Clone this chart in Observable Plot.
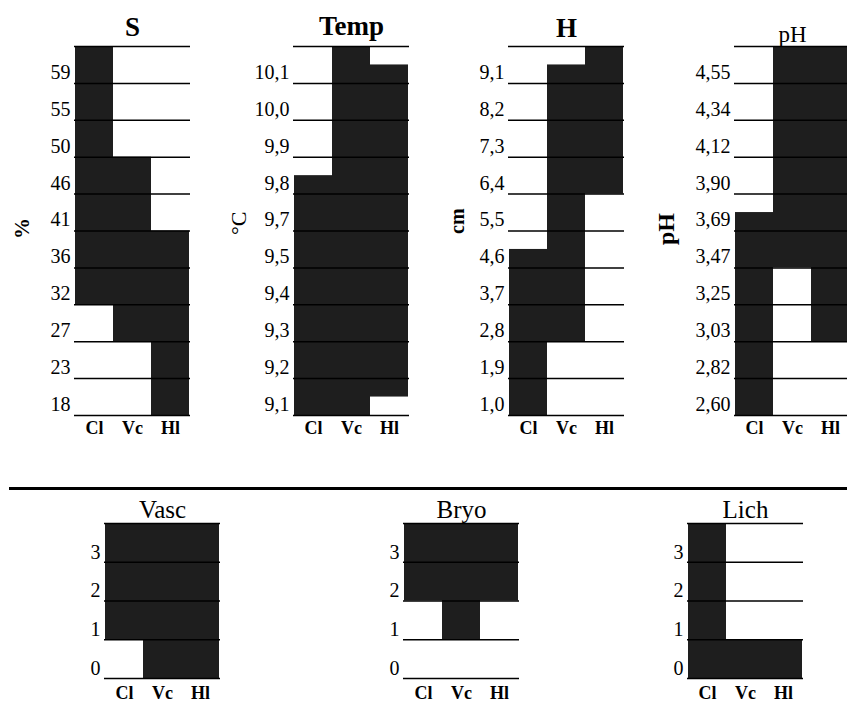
<!DOCTYPE html>
<html>
<head>
<meta charset="utf-8">
<script src="https://cdn.jsdelivr.net/npm/d3@7"></script>
<script src="https://cdn.jsdelivr.net/npm/@observablehq/plot@0.6"></script>
<style>
  html, body { margin: 0; padding: 0; background: #fff; }
  #chart { position: relative; width: 847px; height: 703px; overflow: hidden; background: #fff; }
  #chart svg { position: absolute; }
  .divider { position: absolute; left: 9px; top: 487px; width: 838px; height: 3px; background: #000; }
</style>
</head>
<body>
<div id="chart"><div class="divider"></div></div>
<script>
// Site classes along the x axis of every panel
const columns = ["Cl", "Vc", "Hl"];

// Environmental gradients: class labels (bottom to top) and occupied range per site [lo, hi] in class steps
const salinityLabels = ["18", "23", "27", "32", "36", "41", "46", "50", "55", "59"];
const salinityLo = [3, 2, 0];
const salinityHi = [10, 7, 5];

const tempLabels = ["9,1", "9,2", "9,3", "9,4", "9,5", "9,7", "9,8", "9,9", "10,0", "10,1"];
const tempLo = [0, 0, 0.5];
const tempHi = [6.5, 10, 9.5];

const heightLabels = ["1,0", "1,9", "2,8", "3,7", "4,6", "5,5", "6,4", "7,3", "8,2", "9,1"];
const heightLo = [0, 2, 6];
const heightHi = [4.5, 9.5, 10];

const phLabels = ["2,60", "2,82", "3,03", "3,25", "3,47", "3,69", "3,90", "4,12", "4,34", "4,55"];
const phLo = [0, 4, 2];
const phHi = [5.5, 10, 10];

// Cover classes of vegetation groups
const coverLabels = ["0", "1", "2", "3"];
const vascLo = [1, 0, 0];
const vascHi = [4, 4, 4];
const bryoLo = [2, 1, 2];
const bryoHi = [4, 4, 4];
const lichLo = [0, 0, 0];
const lichHi = [4, 1, 1];

const FONT = '"Liberation Serif", "Times New Roman", serif';
const FILL = "#1e1e1e";

function drawPanel(p) {
  const ML = 74, MR = 10;
  const rows = p.labels.length;
  const bars = columns.map((c, i) => ({col: c, lo: p.lo[i], hi: p.hi[i]}));
  const boundaries = d3.range(rows + 1);
  const chart = Plot.plot({
    width: ML + p.w + MR,
    height: p.mt + p.h + p.mb,
    marginLeft: ML, marginRight: MR, marginTop: p.mt, marginBottom: p.mb,
    style: {fontFamily: FONT, background: "none", maxWidth: "none", overflow: "visible", color: "#000"},
    x: {type: "band", domain: columns, padding: 0},
    y: {domain: [0, rows]},
    marks: [
      Plot.barY(bars, {x: "col", y1: "lo", y2: "hi", fill: FILL}),
      Plot.ruleY(boundaries, {stroke: "#000", strokeWidth: 1.5}),
      Plot.axisY(d3.range(rows), {
        tickSize: 0, tickPadding: 4, tickFormat: (i) => p.labels[i],
        dy: p.tickDy, fontSize: 20, label: null
      }),
      Plot.axisX({tickSize: 0, tickPadding: p.colPad, fontSize: 18, fontWeight: "bold", label: null}),
      Plot.text([p.title], {
        text: (d) => d, frameAnchor: "top", lineAnchor: "middle",
        dy: p.titleDy, fontSize: p.titleSize, fontWeight: p.titleWeight
      }),
      p.unit ? Plot.text([p.unit], {
        text: (d) => d, frameAnchor: "left", lineAnchor: "middle",
        dx: p.unitDx, dy: p.unitDy, rotate: -90, fontSize: p.unitSize, fontWeight: p.unitWeight
      }) : null
    ]
  });
  chart.style.left = (p.left - ML) + "px";
  chart.style.top = (p.top - p.mt) + "px";
  document.getElementById("chart").appendChild(chart);
}

const upperRow = {top: 46, mt: 46, h: 369, mb: 30, w: 116, tickDy: -11, colPad: 6, unitDy: 0};
const lowerRow = {top: 523, mt: 40, h: 155, mb: 25, w: 116, tickDy: -10, colPad: 8, titleDy: -14, titleSize: 25, titleWeight: "normal"};

drawPanel({...upperRow, left: 74, labels: salinityLabels, lo: salinityLo, hi: salinityHi,
  title: "S", titleDy: -19, titleSize: 27, titleWeight: "bold",
  unit: "%", unitDx: -52, unitDy: 8, unitSize: 21, unitWeight: "bold"});
drawPanel({...upperRow, left: 293, labels: tempLabels, lo: tempLo, hi: tempHi,
  title: "Temp", titleDy: -20, titleSize: 27, titleWeight: "bold",
  unit: "°C", unitDx: -55, unitDy: 4, unitSize: 22, unitWeight: "normal"});
drawPanel({...upperRow, left: 508, labels: heightLabels, lo: heightLo, hi: heightHi,
  title: "H", titleDy: -18, titleSize: 27, titleWeight: "bold",
  unit: "cm", unitDx: -51, unitDy: 3, unitSize: 20, unitWeight: "bold"});
drawPanel({...upperRow, left: 734, labels: phLabels, lo: phLo, hi: phHi,
  title: "pH", titleDy: -12, titleSize: 23, titleWeight: "normal",
  unit: "pH", unitDx: -68, unitDy: 14, unitSize: 24, unitWeight: "bold"});

drawPanel({...lowerRow, left: 104, labels: coverLabels, lo: vascLo, hi: vascHi, title: "Vasc"});
drawPanel({...lowerRow, left: 403, labels: coverLabels, lo: bryoLo, hi: bryoHi, title: "Bryo"});
drawPanel({...lowerRow, left: 687, labels: coverLabels, lo: lichLo, hi: lichHi, title: "Lich"});
</script>
</body>
</html>
